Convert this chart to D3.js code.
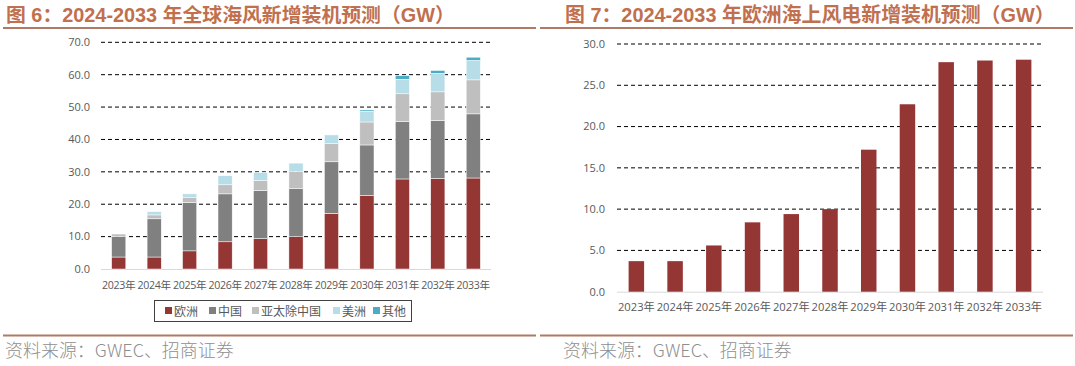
<!DOCTYPE html>
<html><head><meta charset="utf-8">
<script src="https://cdn.jsdelivr.net/npm/d3@7"></script>
<style>
body{margin:0;background:#fff;}
svg{display:block;}
</style></head>
<body><svg id="c" width="1075" height="366"></svg>
<script>
const years = ["2023年","2024年","2025年","2026年","2027年","2028年","2029年","2030年","2031年","2032年","2033年"];
const europe   = [3.7, 3.7, 5.6, 8.4, 9.4, 10.0, 17.2, 22.7, 27.8, 28.0, 28.1];
const china    = [6.3, 11.8, 14.9, 14.8, 14.8, 14.8, 15.9, 15.6, 17.8, 17.9, 19.8];
const apac     = [0.8, 1.2, 1.5, 2.8, 3.1, 5.3, 5.6, 7.1, 8.5, 8.8, 10.5];
const americas = [0.0, 1.0, 1.2, 2.8, 2.5, 2.6, 2.7, 3.3, 4.5, 5.7, 6.0];
const others   = [0.0, 0.0, 0.0, 0.0, 0.0, 0.0, 0.0, 0.4, 1.1, 0.9, 1.0];
const seriesNames = ["欧洲","中国","亚太除中国","美洲","其他"];
const seriesColors = ["#943634","#808080","#bfbfbf","#b7dee8","#4bacc6"];
const leftTicks = [0,10,20,30,40,50,60,70];
const rightTicks = [0,5,10,15,20,25,30];
const title1 = "图 6：2024-2033 年全球海风新增装机预测（GW）";
const title2 = "图 7：2024-2033 年欧洲海上风电新增装机预测（GW）";
const source = "资料来源：GWEC、招商证券";

const svg = d3.select("#c");
const titleColor = "#c0704e";
const ruleColor = "#b07a66";
const fontCJK = "'Liberation Sans','Noto Sans CJK SC',sans-serif";

// titles and rules (fit each title to its measured span in the reference)
[[6,title1,3,536,449],[565,title2,540,1073,490]].forEach(([x,t,x0,x1,w])=>{
  const tx = svg.append("text").attr("x",x).attr("y",22).text(t)
    .attr("font-family",fontCJK).attr("font-weight","bold").attr("font-size",20).attr("fill",titleColor);
  const L = tx.node().getComputedTextLength();
  tx.attr("font-size", Math.min(21, 20*w/L));
  svg.append("line").attr("x1",x0).attr("x2",x1).attr("y1",28).attr("y2",28).attr("stroke",ruleColor).attr("stroke-width",2);
  svg.append("line").attr("x1",x0).attr("x2",x1).attr("y1",335.5).attr("y2",335.5).attr("stroke",ruleColor).attr("stroke-width",2);
});
[[5,source],[563,source]].forEach(([x,t])=>{
  const tx = svg.append("text").attr("x",x).attr("y",357).text(t)
    .attr("font-family","'Noto Sans CJK SC',sans-serif").attr("font-weight",300).attr("font-size",16).attr("fill","#8f8f8f");
  const L = tx.node().getComputedTextLength();
  tx.attr("font-size", Math.min(18, 16*229/L));
});

function axes(g, x, y, ticks, y0, labelX){
  g.selectAll(".grid").data(ticks.filter(d=>d>0)).join("line")
    .attr("x1",x.range()[0]).attr("x2",x.range()[1])
    .attr("y1",d=>y(d)).attr("y2",d=>y(d))
    .attr("stroke","#000").attr("stroke-width",1).attr("stroke-dasharray","4,3");
  g.append("line").attr("x1",x.range()[0]).attr("x2",x.range()[1])
    .attr("y1",y(0)+0.5).attr("y2",y(0)+0.5).attr("stroke","#d9d9d9");
  g.selectAll(".yl").data(ticks).join("text")
    .attr("x",labelX).attr("y",d=>y(d)).attr("dy","0.35em").attr("text-anchor","end")
    .attr("font-family","'Open Sans',sans-serif").attr("font-size",11).attr("fill","#595959")
    .text(d=>d3.format(".1f")(d));
}

// left chart
{
  const x = d3.scaleBand().domain(years).range([101,491]).paddingInner(0.6).paddingOuter(0.3);
  const y = d3.scaleLinear().domain([0,70]).range([269,42.3]);
  const g = svg.append("g");
  axes(g, x, y, leftTicks, 269, 90);
  const rows = years.map((yr,i)=>({yr, 欧洲:europe[i], 中国:china[i], 亚太除中国:apac[i], 美洲:americas[i], 其他:others[i]}));
  const stack = d3.stack().keys(seriesNames)(rows);
  g.selectAll(".s").data(stack).join("g").attr("fill",(d,i)=>seriesColors[i])
    .selectAll("rect").data(d=>d).join("rect")
    .attr("x",d=>x(d.data.yr)).attr("width",x.bandwidth())
    .attr("y",d=>y(d[1])).attr("height",d=>Math.max(0,y(d[0])-y(d[1])))
    .attr("stroke","#fff").attr("stroke-width",0.5);
  g.selectAll(".xl").data(years).join("text")
    .attr("x",d=>x(d)+x.bandwidth()/2).attr("y",289).attr("text-anchor","middle")
    .attr("font-family","'Open Sans','Noto Sans CJK SC',sans-serif").attr("font-size",10.6).attr("fill","#595959")
    .attr("letter-spacing",-0.3)
    .text(d=>d);
  const lg = svg.append("g");
  lg.append("rect").attr("x",154.5).attr("y",300.5).attr("width",257).attr("height",21)
    .attr("fill","#fff").attr("stroke","#404040").attr("stroke-width",1);
  const lx = [165,209,252,333,373];
  seriesNames.forEach((n,i)=>{
    lg.append("rect").attr("x",lx[i]).attr("y",307).attr("width",7).attr("height",7).attr("fill",seriesColors[i]);
    lg.append("text").attr("x",lx[i]+9).attr("y",315.5).text(n)
      .attr("font-family","'Noto Sans CJK SC',sans-serif").attr("font-size",12).attr("fill","#595959");
  });
}

// right chart
{
  const x = d3.scaleBand().domain(years).range([617,1043]).paddingInner(0.6).paddingOuter(0.3);
  const y = d3.scaleLinear().domain([0,30]).range([291.7,44]);
  const g = svg.append("g");
  axes(g, x, y, rightTicks, 291.7, 605);
  g.selectAll(".b").data(europe).join("rect")
    .attr("x",(d,i)=>x(years[i])).attr("width",x.bandwidth())
    .attr("y",d=>y(d)).attr("height",d=>y(0)-y(d)).attr("fill",seriesColors[0]);
  g.selectAll(".xl").data(years).join("text")
    .attr("x",d=>x(d)+x.bandwidth()/2).attr("y",311).attr("text-anchor","middle")
    .attr("font-family","'Open Sans','Noto Sans CJK SC',sans-serif").attr("font-size",11.2).attr("fill","#595959")
    .text(d=>d);
}
</script></body></html>
